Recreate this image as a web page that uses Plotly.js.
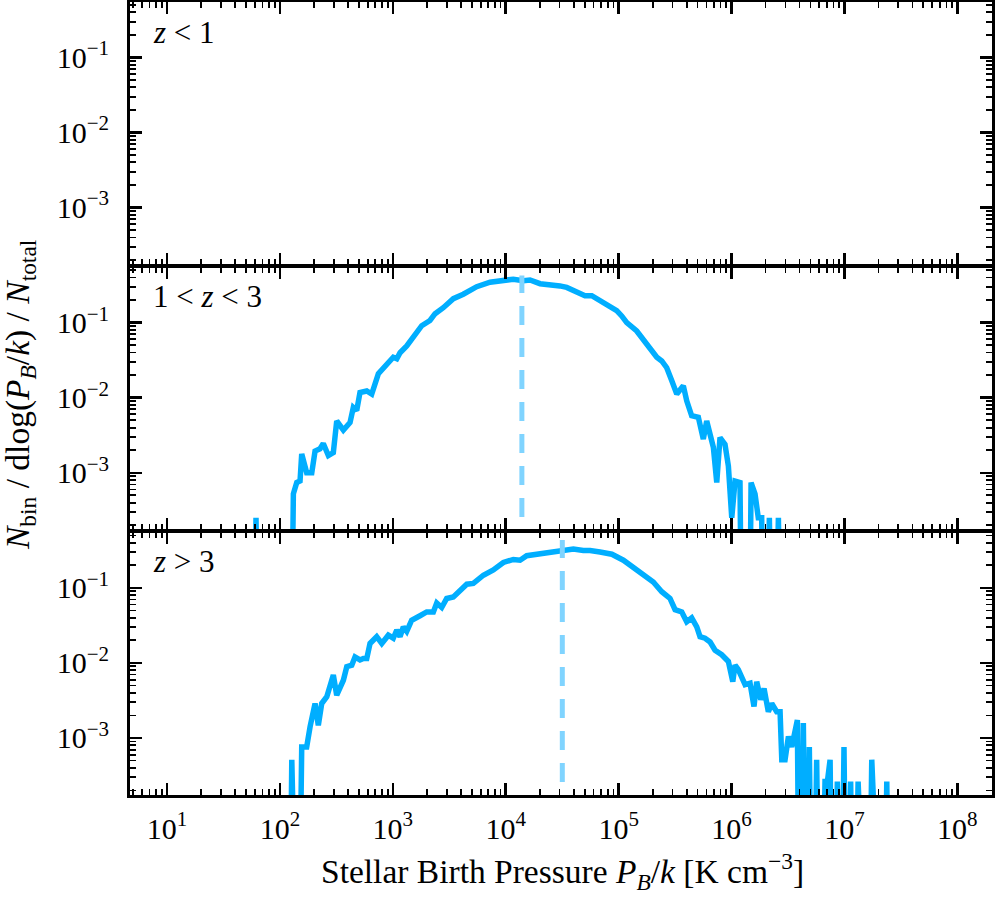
<!DOCTYPE html>
<html>
<head>
<meta charset="utf-8">
<script src="https://cdn.plot.ly/plotly-3.0.1.min.js"></script>
<style>html,body{margin:0;padding:0;background:#fff;}#chart{width:996px;height:900px;}</style>
</head>
<body>
<div id="chart"></div>
<script>
// ---- data (log10 of pressure bin centre, log10 of N_bin/dlog(P/k)/N_total; null = empty bin) ----
const panelLabels = ['<i>z</i> < 1', '1 < <i>z</i> < 3', '<i>z</i> > 3'];

const tickValsX = [1e1, 1e2, 1e3, 1e4, 1e5, 1e6, 1e7, 1e8];
const tickTextX = ['10<sup>1</sup>', '10<sup>2</sup>', '10<sup>3</sup>', '10<sup>4</sup>',
                   '10<sup>5</sup>', '10<sup>6</sup>', '10<sup>7</sup>', '10<sup>8</sup>'];
const tickValsY = [1e-3, 1e-2, 1e-1];
const tickTextY = ['10<sup>\u22123</sup>', '10<sup>\u22122</sup>', '10<sup>\u22121</sup>'];

// z < 1 : no stars
const log10P_low = [];
const log10f_low = [];

// 1 < z < 3
const log10P_mid = [1.76,1.788,1.82,2.09,2.119,2.149,2.178,2.193,2.237,2.282,2.311,2.355,2.384,2.429,2.473,2.503,
  2.562,2.621,2.650,2.680,2.709,2.769,2.813,2.872,2.916,2.946,2.975,3.004,3.035,3.064,3.123,3.197,3.256,3.329,3.374,
  3.447,3.536,3.624,3.743,3.861,3.979,4.067,4.156,4.215,4.304,4.422,4.48,4.54,4.64,4.702,4.762,4.806,4.895,4.983,
  5.027,5.072,5.160,5.219,5.278,5.338,5.382,5.426,5.470,5.515,5.573,5.603,5.647,5.706,5.750,5.780,5.839,5.869,5.898,
  5.942,5.972,6.002,6.031,6.075,6.10,6.15,6.173,6.208,6.237,6.267,6.297,6.335,6.37,6.415,6.45];
const log10f_mid = [null,-3.60,null,null,-3.28,-3.13,-3.11,-2.75,-3.00,-3.00,-2.71,-2.68,-2.61,-2.77,-2.73,-2.31,
  -2.43,-2.33,-2.13,-2.17,-1.93,-1.91,-1.95,-1.68,-1.60,-1.55,-1.51,-1.46,-1.48,-1.40,-1.31,-1.15,-1.04,-0.97,-0.88,
  -0.80,-0.68,-0.62,-0.52,-0.46,-0.43,-0.42,-0.44,-0.43,-0.48,-0.49,-0.51,-0.53,-0.59,-0.64,-0.64,-0.68,-0.75,-0.84,
  -0.91,-1.00,-1.11,-1.22,-1.33,-1.46,-1.51,-1.60,-1.77,-1.95,-1.84,-2.04,-2.24,-2.26,-2.55,-2.31,-2.66,-3.13,-2.53,
  -2.62,-2.91,-3.60,-3.11,-3.13,null,null,-3.13,-3.28,-3.60,-3.60,null,-3.60,null,-3.60,null];

// z > 3
const log10P_high = [2.08,2.105,2.13,2.16,2.193,2.237,2.267,2.311,2.340,2.370,2.415,2.473,2.503,2.562,2.592,
  2.636,2.665,2.709,2.739,2.769,2.798,2.857,2.902,2.960,3.004,3.035,3.064,3.093,3.123,3.167,3.241,3.300,3.359,3.389,
  3.433,3.477,3.536,3.595,3.655,3.713,3.802,3.890,3.979,4.067,4.127,4.186,4.275,4.363,4.452,4.510,4.599,4.687,4.747,
  4.835,4.940,5.042,5.130,5.219,5.307,5.382,5.455,5.500,5.559,5.603,5.647,5.692,5.721,5.765,5.810,5.854,5.913,5.972,
  6.011,6.031,6.060,6.120,6.164,6.199,6.223,6.259,6.288,6.326,6.356,6.400,6.430,6.445,6.474,6.504,6.533,6.583,6.605,
  6.636,6.666,6.689,6.719,6.754,6.785,6.828,6.849,6.873,6.90,6.937,6.965,6.996,7.025,7.055,7.085,7.121,7.15,7.21,
  7.242,7.27,7.345,7.375,7.40];
const log10f_high = [null,-3.29,null,null,-3.12,-3.12,-2.85,-2.54,-2.83,-2.54,-2.45,-2.16,-2.43,-2.23,-2.05,
  -2.03,-1.92,-1.96,-1.94,-1.94,-1.74,-1.65,-1.74,-1.63,-1.67,-1.56,-1.65,-1.52,-1.58,-1.43,-1.37,-1.32,-1.32,-1.20,
  -1.26,-1.14,-1.12,-1.03,-0.95,-0.94,-0.83,-0.76,-0.66,-0.62,-0.63,-0.57,-0.55,-0.52,-0.51,-0.49,-0.48,-0.50,-0.50,
  -0.52,-0.55,-0.63,-0.72,-0.83,-0.92,-1.05,-1.14,-1.29,-1.32,-1.45,-1.40,-1.52,-1.65,-1.67,-1.72,-1.83,-1.89,-1.98,
  -2.25,-2.03,-2.09,-2.29,-2.27,-2.58,-2.25,-2.49,-2.34,-2.65,-2.54,-2.65,-2.65,-3.29,-3.29,-2.98,-3.12,-2.76,null,
  -2.80,null,-3.12,null,-3.29,null,-3.58,-3.58,-3.29,null,-3.58,null,-3.12,null,-3.58,null,-3.58,null,null,
  -3.29,null,null,-3.58,null];

// median birth pressure per panel and height of its marker line
const medianP   = [null, 1.39e4, 3.17e4];
const medianTop = [null, 0.427, 0.437];

// ---- build ----
const LINE = '#00aeff';
const DASH = '#80d4ff';
const FONT = 'Liberation Serif, Times New Roman, serif';
// empty bins: like matplotlib's log axis, send them far below the visible range
const FLOOR = 1e-7;
const toP = a => a.map(v => Math.pow(10, v));
const toF = a => a.map(v => (v === null ? FLOOR : Math.pow(10, v)));

const series = [[log10P_low, log10f_low], [log10P_mid, log10f_mid], [log10P_high, log10f_high]];
const axSuffix = ['', '2', '3'];
const traces = [];
series.forEach((s, i) => {
  traces.push({
    type: 'scatter', mode: 'lines', x: toP(s[0]), y: toF(s[1]),
    xaxis: 'x' + axSuffix[i], yaxis: 'y' + axSuffix[i],
    line: {color: LINE, width: 5.5}, hoverinfo: 'skip', showlegend: false
  });
  if (medianP[i] !== null) {
    traces.push({
      type: 'scatter', mode: 'lines', x: [medianP[i], medianP[i]], y: [FLOOR, medianTop[i]],
      xaxis: 'x' + axSuffix[i], yaxis: 'y' + axSuffix[i],
      line: {color: DASH, width: 5, dash: '19px,13px'}, hoverinfo: 'skip', showlegend: false
    });
  }
});

const xRange = [0.672, 8.307];
const yRange = [-3.76, -0.26];
const domainsY = [[0.6689, 1], [0.3344, 0.6656], [0, 0.3311]];
const TICKSIZE = 30;

function xAxis(i) {
  return {
    type: 'log', range: xRange, domain: [0, 1], anchor: 'y' + axSuffix[i],
    showline: true, linewidth: 3, linecolor: 'black', mirror: 'allticks',
    ticks: 'inside', ticklen: 12, tickwidth: 2.5, tickcolor: 'black',
    tickmode: 'array', tickvals: tickValsX, ticktext: tickTextX,
    showticklabels: i === 2, ticklabelstandoff: 5,
    minor: {ticks: 'inside', ticklen: 6, tickwidth: 1.8, tickcolor: 'black', dtick: 'D1', showgrid: false},
    showgrid: false, zeroline: false,
    tickfont: {family: FONT, size: TICKSIZE, color: 'black'}
  };
}
function yAxis(i) {
  return {
    type: 'log', range: yRange, domain: domainsY[i], anchor: 'x' + axSuffix[i],
    showline: true, linewidth: 3, linecolor: 'black', mirror: 'allticks',
    ticks: 'inside', ticklen: 12, tickwidth: 2.5, tickcolor: 'black',
    tickmode: 'array', tickvals: tickValsY, ticktext: tickTextY, ticklabelstandoff: 12,
    minor: {ticks: 'inside', ticklen: 6, tickwidth: 1.8, tickcolor: 'black', dtick: 'D1', showgrid: false},
    showgrid: false, zeroline: false,
    tickfont: {family: FONT, size: TICKSIZE, color: 'black'}
  };
}

const labelY = [0.961, 0.6292, 0.295];
const annotations = panelLabels.map((t, i) => ({
  text: t, xref: 'paper', yref: 'paper', x: 0.024, y: labelY[i],
  xanchor: 'left', yanchor: 'middle', showarrow: false,
  font: {family: FONT, size: 31, color: 'black'}
}));
annotations.push({
  text: '<i>N</i><sub>bin</sub> / dlog(<i>P</i><sub><i>B</i></sub>/<i>k</i>) / <i>N</i><sub>total</sub>',
  xref: 'paper', yref: 'paper', x: -0.1276, y: 0.5044, textangle: -90,
  xanchor: 'center', yanchor: 'middle', showarrow: false,
  font: {family: FONT, size: 33.5, color: 'black'}
});
annotations.push({
  text: 'Stellar Birth Pressure <i>P</i><sub><i>B</i></sub>/<i>k</i> [K cm<sup>\u22123</sup>]',
  xref: 'paper', yref: 'paper', x: 0.5023, y: -0.0965,
  xanchor: 'center', yanchor: 'middle', showarrow: false,
  font: {family: FONT, size: 33.5, color: 'black'}
});

const layout = {
  width: 996, height: 900,
  margin: {l: 130, r: 4, t: 2, b: 105},
  paper_bgcolor: 'white', plot_bgcolor: 'white',
  showlegend: false,
  xaxis: xAxis(0), xaxis2: xAxis(1), xaxis3: xAxis(2),
  yaxis: yAxis(0), yaxis2: yAxis(1), yaxis3: yAxis(2),
  annotations: annotations,
  font: {family: FONT, color: 'black'}
};

Plotly.newPlot('chart', traces, layout, {staticPlot: true, displayModeBar: false});
</script>
</body>
</html>
